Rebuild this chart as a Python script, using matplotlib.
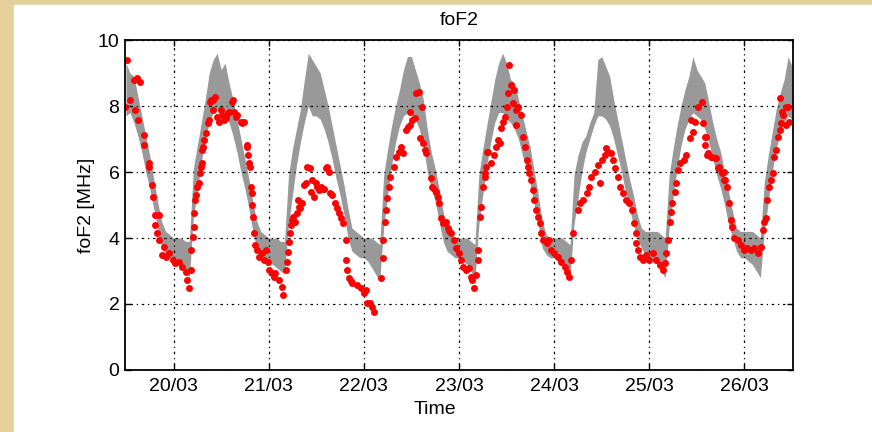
import matplotlib.pyplot as plt
import matplotlib.patches as mpatches
from matplotlib import font_manager
import numpy as np

# model band (grey), hourly from 19/03 12:00 to 26/03 12:00
band_hi = [
    9.3, 9.0, 8.9, 8.3, 7.7, 7.1, 6.5, 5.8, 5.1, 4.5, 4.2, 4.1,  # 19/03 pm
    4.0, 4.0, 4.0, 3.9, 3.9, 6.1, 6.8, 7.5, 8.2, 9.0, 9.4, 9.6,
    9.1, 9.3, 8.7, 8.2, 7.6, 7.0, 6.4, 5.8, 5.1, 4.5, 4.2, 4.1,  # 20/03
    4.0, 4.0, 4.0, 3.9, 3.9, 5.9, 6.7, 7.3, 7.9, 8.8, 9.6, 9.4,
    9.2, 9.0, 8.5, 8.0, 7.4, 6.8, 6.2, 5.6, 4.9, 4.3, 4.2, 4.1,  # 21/03
    4.0, 4.0, 4.0, 3.9, 3.8, 5.9, 6.7, 7.4, 8.0, 8.5, 9.1, 9.5,
    9.5, 9.1, 8.7, 8.2, 7.3, 6.6, 6.1, 5.5, 4.8, 4.3, 4.1, 4.0,  # 22/03
    4.0, 4.0, 4.0, 3.9, 3.8, 5.9, 6.7, 7.4, 8.1, 8.8, 9.3, 9.6,
    9.3, 8.8, 8.7, 8.2, 7.7, 7.2, 6.7, 6.0, 5.3, 4.5, 4.1, 4.0,  # 23/03
    4.0, 4.0, 4.0, 3.9, 3.8, 5.9, 6.5, 6.9, 7.1, 7.5, 7.8, 9.4,
    9.5, 9.2, 8.9, 8.2, 7.6, 7.0, 6.4, 5.8, 5.3, 4.7, 4.3, 4.2,  # 24/03
    4.2, 4.2, 4.2, 4.1, 4.0, 5.9, 6.7, 7.4, 8.0, 8.5, 8.9, 9.5,
    9.1, 8.9, 8.7, 8.1, 7.5, 7.0, 6.6, 6.0, 5.4, 4.8, 4.3, 4.2,  # 25/03
    4.2, 4.2, 4.2, 4.1, 4.0, 5.7, 6.5, 7.2, 7.9, 8.4, 8.8, 9.5,
    9.2,                                                          # 26/03 am
]
band_lo = [
    7.7, 7.8, 7.5, 7.1, 6.6, 6.0, 5.5, 4.9, 4.3, 3.7, 3.5, 3.4,
    3.3, 3.2, 3.1, 3.0, 2.8, 4.6, 5.4, 6.3, 7.0, 7.5, 7.8, 7.9,
    7.8, 7.7, 7.5, 7.1, 6.6, 6.0, 5.5, 4.9, 4.2, 3.7, 3.5, 3.4,
    3.3, 3.2, 3.1, 3.0, 2.9, 4.4, 5.3, 6.2, 6.9, 7.5, 8.0, 7.7,
    7.7, 7.6, 7.3, 6.9, 6.4, 5.8, 5.3, 4.7, 4.0, 3.6, 3.5, 3.4,
    3.4, 3.3, 3.1, 2.9, 2.7, 4.3, 5.3, 6.2, 6.9, 7.4, 7.7, 7.8,
    7.7, 7.6, 7.3, 6.8, 6.0, 5.5, 5.1, 4.5, 3.9, 3.6, 3.5, 3.4,
    3.4, 3.3, 3.2, 3.0, 2.7, 4.4, 5.3, 6.2, 6.9, 7.5, 7.8, 7.8,
    7.6, 7.5, 7.3, 7.0, 6.5, 6.1, 5.6, 5.0, 4.4, 3.7, 3.5, 3.4,
    3.4, 3.3, 3.2, 3.0, 2.8, 4.4, 5.2, 6.0, 6.6, 7.0, 7.4, 7.7,
    7.7, 7.6, 7.4, 7.0, 6.5, 6.0, 5.4, 4.9, 4.4, 4.0, 3.7, 3.5,
    3.4, 3.3, 3.2, 3.0, 2.8, 4.3, 5.2, 6.1, 6.8, 7.3, 7.6, 7.8,
    7.7, 7.6, 7.3, 6.9, 6.4, 5.9, 5.5, 5.0, 4.4, 4.0, 3.6, 3.4,
    3.4, 3.3, 3.2, 3.0, 2.8, 4.2, 5.1, 6.0, 6.7, 7.2, 7.5, 7.7,
    7.6,
]
band_t = 19.5 + np.arange(len(band_hi)) / 24.0

# observed foF2 (red), time in days of March
obs_day = [
    19.49, 19.51, 19.54, 19.58, 19.60, 19.62, 19.63, 19.65, 19.69, 19.69, 19.74, 19.74,
    19.77, 19.78, 19.81, 19.81, 19.83, 19.85, 19.85, 19.88, 19.90, 19.92, 19.95, 19.99,
    20.02, 20.06, 20.09, 20.13, 20.14, 20.16, 20.18, 20.18, 20.20, 20.21, 20.22, 20.23,
    20.24, 20.25, 20.27, 20.28, 20.29, 20.30, 20.30, 20.31, 20.32, 20.34, 20.36, 20.37,
    20.38, 20.39, 20.41, 20.42, 20.44, 20.46, 20.48, 20.50, 20.51, 20.53, 20.55, 20.57,
    20.58, 20.61, 20.62, 20.64, 20.66, 20.67, 20.71, 20.72, 20.74, 20.77, 20.77, 20.78,
    20.79, 20.80, 20.81, 20.82, 20.82, 20.83, 20.85, 20.86, 20.88, 20.90, 20.93, 20.95,
    20.97, 20.99, 21.00, 21.03, 21.06, 21.07, 21.11, 21.14, 21.15, 21.18, 21.19, 21.20,
    21.21, 21.22, 21.23, 21.25, 21.26, 21.28, 21.30, 21.31, 21.32, 21.33, 21.35, 21.37,
    21.39, 21.40, 21.43, 21.44, 21.46, 21.48, 21.50, 21.51, 21.53, 21.55, 21.57, 21.58,
    21.60, 21.61, 21.63, 21.64, 21.67, 21.70, 21.72, 21.74, 21.76, 21.78, 21.81, 21.81,
    21.82, 21.84, 21.86, 21.88, 21.93, 21.97, 22.00, 22.02, 22.03, 22.06, 22.09, 22.11,
    22.18, 22.20, 22.20, 22.22, 22.23, 22.24, 22.26, 22.28, 22.32, 22.34, 22.37, 22.39,
    22.41, 22.44, 22.46, 22.48, 22.48, 22.51, 22.54, 22.55, 22.58, 22.59, 22.61, 22.62,
    22.64, 22.65, 22.71, 22.72, 22.74, 22.76, 22.78, 22.79, 22.81, 22.83, 22.86, 22.88,
    22.90, 22.92, 22.95, 22.97, 23.00, 23.02, 23.04, 23.07, 23.11, 23.13, 23.14, 23.16,
    23.18, 23.20, 23.20, 23.22, 23.23, 23.25, 23.27, 23.27, 23.28, 23.29, 23.30, 23.34,
    23.37, 23.39, 23.41, 23.43, 23.44, 23.46, 23.48, 23.50, 23.52, 23.53, 23.55, 23.57,
    23.58, 23.60, 23.60, 23.62, 23.65, 23.67, 23.69, 23.71, 23.72, 23.74, 23.76, 23.78,
    23.79, 23.81, 23.83, 23.85, 23.86, 23.88, 23.92, 23.95, 23.97, 24.00, 24.04, 24.07,
    24.11, 24.14, 24.16, 24.18, 24.20, 24.25, 24.27, 24.30, 24.34, 24.37, 24.39, 24.43,
    24.46, 24.48, 24.50, 24.53, 24.55, 24.57, 24.60, 24.62, 24.64, 24.67, 24.69, 24.72,
    24.76, 24.79, 24.82, 24.84, 24.86, 24.86, 24.88, 24.90, 24.93, 24.97, 25.00, 25.04,
    25.07, 25.11, 25.14, 25.16, 25.18, 25.20, 25.22, 25.23, 25.24, 25.27, 25.28, 25.30,
    25.32, 25.36, 25.39, 25.43, 25.44, 25.46, 25.48, 25.51, 25.55, 25.56, 25.58, 25.58,
    25.60, 25.61, 25.62, 25.65, 25.66, 25.69, 25.70, 25.72, 25.73, 25.76, 25.78, 25.79,
    25.80, 25.82, 25.84, 25.86, 25.87, 25.89, 25.93, 25.96, 26.00, 26.03, 26.07, 26.10,
    26.14, 26.17, 26.19, 26.21, 26.23, 26.24, 26.26, 26.28, 26.30, 26.31, 26.33, 26.35,
    26.37, 26.37, 26.38, 26.39, 26.41, 26.44, 26.44, 26.46, 26.47,
]
obs_fof2 = [
    7.98, 9.39, 8.18, 8.79, 7.88, 8.85, 7.58, 8.74, 7.12, 6.82, 6.27, 6.15,
    5.61, 5.25, 4.70, 4.39, 4.15, 4.70, 3.94, 3.48, 3.74, 3.43, 3.54, 3.33,
    3.24, 3.28, 3.12, 2.98, 2.73, 2.48, 3.03, 3.64, 4.04, 4.34, 4.75, 5.15,
    5.30, 5.56, 5.66, 5.96, 6.16, 6.26, 6.67, 6.77, 6.97, 7.17, 7.47, 7.58,
    8.13, 8.18, 8.18, 7.88, 8.28, 7.68, 7.53, 7.88, 7.73, 7.58, 7.63, 7.78,
    7.83, 8.13, 8.18, 7.83, 7.68, 7.73, 7.53, 7.48, 7.53, 6.82, 6.77, 6.52,
    6.27, 6.16, 5.56, 5.35, 5.00, 4.65, 4.14, 3.79, 3.64, 3.43, 3.54, 3.33,
    3.64, 3.28, 3.03, 2.93, 2.83, 2.93, 2.73, 2.53, 2.27, 3.03, 3.28, 3.59,
    3.89, 4.14, 4.39, 4.55, 4.65, 4.49, 4.75, 5.15, 4.95, 4.90, 5.05, 5.61,
    5.66, 6.16, 6.11, 5.40, 5.76, 5.25, 5.66, 5.56, 5.45, 5.56, 5.50, 5.50,
    6.11, 6.16, 6.01, 5.35, 5.30, 5.05, 4.90, 4.75, 4.60, 4.44, 3.94, 3.33,
    3.03, 2.78, 2.70, 2.63, 2.58, 2.47, 2.32, 2.42, 2.02, 2.02, 1.92, 1.77,
    2.78, 3.38, 3.94, 4.49, 4.85, 5.20, 5.56, 5.86, 6.16, 6.46, 6.61, 6.77,
    6.57, 7.27, 7.35, 7.42, 7.83, 7.58, 7.63, 8.38, 8.43, 7.02, 7.98, 6.87,
    6.67, 6.57, 5.81, 5.56, 5.50, 5.40, 5.25, 5.05, 4.60, 4.44, 4.49, 4.29,
    4.20, 4.14, 3.94, 3.69, 3.54, 3.33, 3.13, 3.03, 3.08, 2.83, 2.73, 2.47,
    2.88, 3.33, 3.64, 4.65, 4.95, 5.56, 5.86, 5.96, 6.16, 6.61, 6.61, 6.26,
    6.52, 6.77, 6.97, 6.87, 7.32, 7.53, 7.68, 7.98, 8.38, 9.24, 8.64, 8.08,
    8.48, 7.88, 7.42, 7.98, 7.73, 7.07, 6.77, 6.36, 6.16, 5.96, 5.76, 5.45,
    5.15, 4.85, 4.65, 4.44, 4.14, 3.94, 3.84, 3.94, 3.64, 3.54, 3.43, 3.28,
    3.13, 2.98, 2.83, 3.33, 4.14, 4.85, 5.05, 5.15, 5.35, 5.56, 5.86, 6.01,
    6.21, 5.66, 6.36, 6.52, 6.72, 6.61, 6.57, 6.36, 6.11, 5.86, 5.56, 5.35,
    5.15, 5.05, 4.85, 4.44, 4.14, 3.84, 3.64, 3.43, 3.33, 3.48, 3.33, 3.54,
    3.33, 3.18, 3.03, 3.23, 3.54, 3.94, 4.49, 4.80, 5.05, 5.40, 5.66, 6.06,
    6.26, 6.36, 6.52, 7.02, 7.58, 7.22, 7.53, 7.98, 8.13, 7.47, 7.07, 6.82,
    7.07, 6.52, 6.57, 6.46, 6.46, 6.41, 6.41, 6.11, 6.16, 5.96, 6.01, 5.76,
    5.76, 5.56, 5.05, 4.55, 4.34, 3.99, 3.94, 3.79, 3.64, 3.69, 3.64, 3.69,
    3.54, 3.74, 4.24, 4.49, 4.60, 5.15, 5.56, 5.76, 5.96, 6.46, 6.67, 7.07,
    7.27, 8.23, 7.47, 7.83, 7.73, 7.42, 7.98, 7.98, 7.53,
]

day_ticks = [20, 21, 22, 23, 24, 25, 26]
day_labels = ["%02d/03" % d for d in day_ticks]
y_ticks = [0, 2, 4, 6, 8, 10]

installed = {f.name for f in font_manager.fontManager.ttflist}
if "Liberation Sans Narrow" in installed:
    plt.rcParams["font.family"] = ["Liberation Sans Narrow", "DejaVu Sans"]
else:
    plt.rcParams["font.family"] = ["Liberation Sans", "DejaVu Sans"]

fig = plt.figure(figsize=(8.72, 4.32), dpi=100)
fig.patch.set_facecolor("#e4d09a")
fig.add_artist(mpatches.Rectangle((14 / 872, 0), 1 - 14 / 872, 427 / 432,
                                  transform=fig.transFigure, color="white", zorder=0))

ax = fig.add_axes([125 / 872, 62 / 432, 668 / 872, 330 / 432])
ax.fill_between(band_t, band_lo, band_hi, color="#999999", lw=0, zorder=2)
ax.plot(obs_day, obs_fof2, "o", color="red", markersize=5, markeredgewidth=0, zorder=3)

ax.set_xlim(19.49, 26.51)
ax.set_ylim(0, 10)
ax.set_xticks(day_ticks, labels=day_labels)
ax.set_yticks(y_ticks)
ax.grid(True, color="black", linestyle=(0, (1, 3, 2, 3)), linewidth=0.9, zorder=1)
ax.set_axisbelow(False)
ax.tick_params(direction="in", length=4.5, width=1, top=True, right=True, labelsize=14, pad=4)
ax.tick_params(axis="x", pad=6)
for s in ax.spines.values():
    s.set_linewidth(1.3)
    s.set_zorder(4)

ax.set_title("foF2", fontsize=14, pad=11)
ax.set_xlabel("Time", fontsize=14)
ax.set_ylabel("foF2 [MHz]", fontsize=14)
ax.xaxis.set_label_coords((435 - 125) / 668, -0.094)
ax.yaxis.set_label_coords(-0.045, 0.5)

fig.savefig("out.png", dpi=100, facecolor=fig.get_facecolor())
